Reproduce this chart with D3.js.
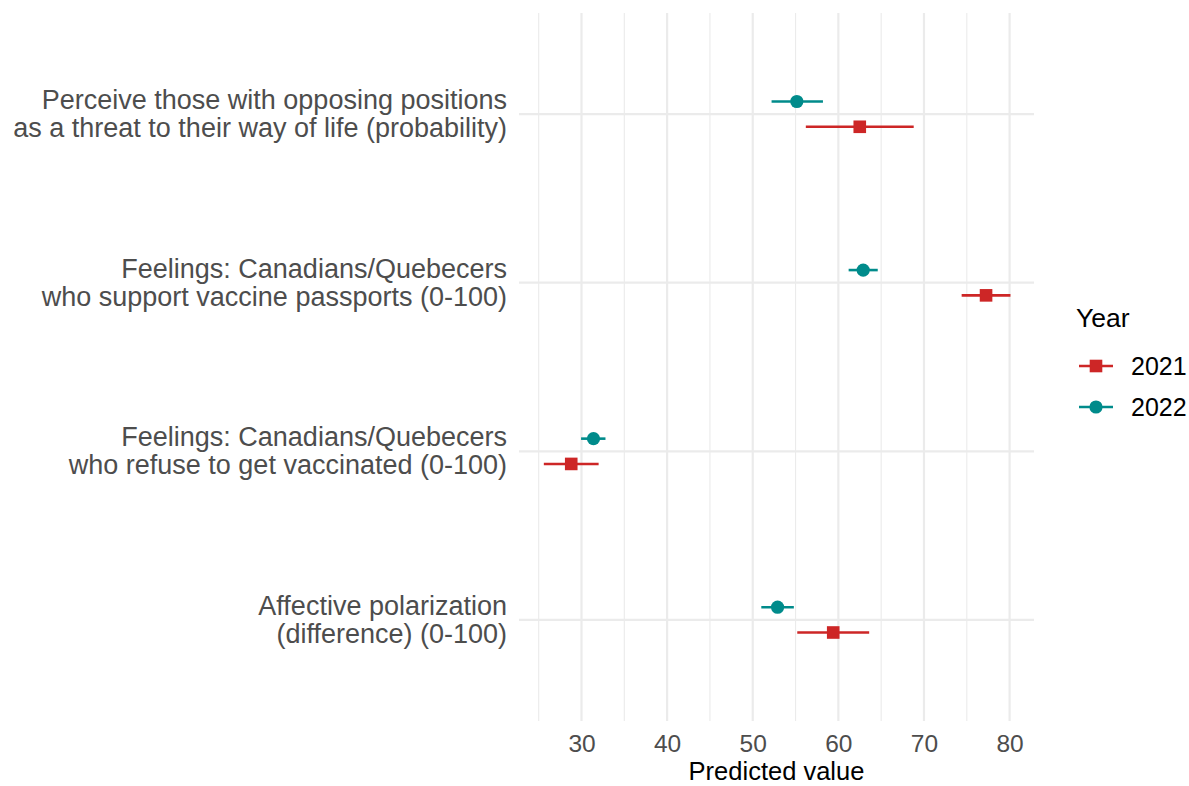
<!DOCTYPE html>
<html>
<head>
<meta charset="utf-8">
<script src="https://cdn.jsdelivr.net/npm/d3@7/dist/d3.min.js"></script>
<style>
  html, body { margin: 0; padding: 0; background: #fff; }
  svg { display: block; }
  text { font-family: "Liberation Sans", Arial, sans-serif; }
</style>
</head>
<body>
<svg id="chart" width="1189" height="786"></svg>
<script>
// Outcome labels (top to bottom), each split over two lines
const categories = [
  ["Perceive those with opposing positions", "as a threat to their way of life (probability)"],
  ["Feelings: Canadians/Quebecers", "who support vaccine passports (0-100)"],
  ["Feelings: Canadians/Quebecers", "who refuse to get vaccinated (0-100)"],
  ["Affective polarization", "(difference) (0-100)"]
];

const years = ["2021", "2022"];

// Predicted values with lower / upper confidence bounds
const est2021 = [62.5, 77.25, 28.8, 59.4];
const low2021 = [56.2, 74.4, 25.6, 55.2];
const high2021 = [68.8, 80.1, 32.0, 63.6];

const est2022 = [55.15, 62.9, 31.4, 52.9];
const low2022 = [52.2, 61.2, 29.95, 51.0];
const high2022 = [58.2, 64.6, 32.8, 54.8];

const xTicks = [30, 40, 50, 60, 70, 80];
const xMinor = [25, 35, 45, 55, 65, 75];

const colors = { "2021": "#CD2626", "2022": "#008B8B" };

const series = [
  { year: "2021", est: est2021, low: low2021, high: high2021, offset: 0.075 },
  { year: "2022", est: est2022, low: low2022, high: high2022, offset: -0.075 }
];

const svg = d3.select("#chart");
const panel = { left: 519, right: 1034, top: 13, bottom: 721 };

const x = d3.scaleLinear()
  .domain([22.7, 82.85])
  .range([panel.left, panel.right]);

// Discrete y positions 1..4 with padding on both ends
const y = d3.scaleLinear()
  .domain([0.4, 4.6])
  .range([panel.top, panel.bottom]);

const grid = svg.append("g");
const gridColor = "#EBEBEB";

grid.selectAll("line.minor").data(xMinor).join("line")
  .attr("x1", d => x(d)).attr("x2", d => x(d))
  .attr("y1", panel.top).attr("y2", panel.bottom)
  .attr("stroke", gridColor).attr("stroke-width", 1.1);

grid.selectAll("line.major").data(xTicks).join("line")
  .attr("x1", d => x(d)).attr("x2", d => x(d))
  .attr("y1", panel.top).attr("y2", panel.bottom)
  .attr("stroke", gridColor).attr("stroke-width", 2.2);

grid.selectAll("line.hmajor").data(categories).join("line")
  .attr("x1", panel.left).attr("x2", panel.right)
  .attr("y1", (d, i) => y(i + 1)).attr("y2", (d, i) => y(i + 1))
  .attr("stroke", gridColor).attr("stroke-width", 2.2);

// X axis (no axis line or tick marks, labels only)
const xAxis = d3.axisBottom(x).tickValues(xTicks).tickSize(0).tickPadding(0);
const gx = svg.append("g")
  .attr("transform", `translate(0,${panel.bottom})`)
  .call(xAxis);
gx.select(".domain").remove();
gx.selectAll("text")
  .attr("dy", null)
  .attr("y", 31)
  .attr("fill", "#4D4D4D")
  .style("font-size", "24.5px")
  .style("font-family", "'Liberation Sans', Arial, sans-serif");

svg.append("text")
  .attr("x", (panel.left + panel.right) / 2)
  .attr("y", 780)
  .attr("text-anchor", "middle")
  .attr("fill", "#000")
  .style("font-size", "25.5px")
  .text("Predicted value");

// Y axis labels
const ylab = svg.append("g");
categories.forEach((lines, i) => {
  const t = ylab.append("text")
    .attr("x", 507)
    .attr("y", y(i + 1) - 5)
    .attr("text-anchor", "end")
    .attr("fill", "#4D4D4D")
    .style("font-size", "27px");
  lines.forEach((ln, j) => {
    t.append("tspan").attr("x", 507).attr("dy", j === 0 ? 0 : 28).text(ln);
  });
});

// Error bars and point estimates
series.forEach(s => {
  const g = svg.append("g");
  const rows = categories.map((c, i) => ({ i, est: s.est[i], low: s.low[i], high: s.high[i] }));
  g.selectAll("line").data(rows).join("line")
    .attr("x1", d => x(d.low)).attr("x2", d => x(d.high))
    .attr("y1", d => y(d.i + 1 + s.offset)).attr("y2", d => y(d.i + 1 + s.offset))
    .attr("stroke", colors[s.year]).attr("stroke-width", 2.6);
  if (s.year === "2021") {
    g.selectAll("rect").data(rows).join("rect")
      .attr("x", d => x(d.est) - 6.3).attr("y", d => y(d.i + 1 + s.offset) - 6.3)
      .attr("width", 12.6).attr("height", 12.6)
      .attr("fill", colors[s.year]);
  } else {
    g.selectAll("circle").data(rows).join("circle")
      .attr("cx", d => x(d.est)).attr("cy", d => y(d.i + 1 + s.offset))
      .attr("r", 6.6)
      .attr("fill", colors[s.year]);
  }
});

// Legend
const legend = svg.append("g");
legend.append("text")
  .attr("x", 1076).attr("y", 327)
  .attr("fill", "#000")
  .style("font-size", "26.5px")
  .text("Year");

years.forEach((yr, k) => {
  const cy = 366 + k * 41;
  const lg = legend.append("g");
  lg.append("line")
    .attr("x1", 1079).attr("x2", 1113)
    .attr("y1", cy).attr("y2", cy)
    .attr("stroke", colors[yr]).attr("stroke-width", 2.6);
  if (yr === "2021") {
    lg.append("rect").attr("x", 1096 - 6.3).attr("y", cy - 6.3)
      .attr("width", 12.6).attr("height", 12.6).attr("fill", colors[yr]);
  } else {
    lg.append("circle").attr("cx", 1096).attr("cy", cy).attr("r", 6.6)
      .attr("fill", colors[yr]);
  }
  lg.append("text")
    .attr("x", 1131).attr("y", cy + 9)
    .attr("fill", "#000")
    .style("font-size", "25px")
    .text(yr);
});
</script>
</body>
</html>
